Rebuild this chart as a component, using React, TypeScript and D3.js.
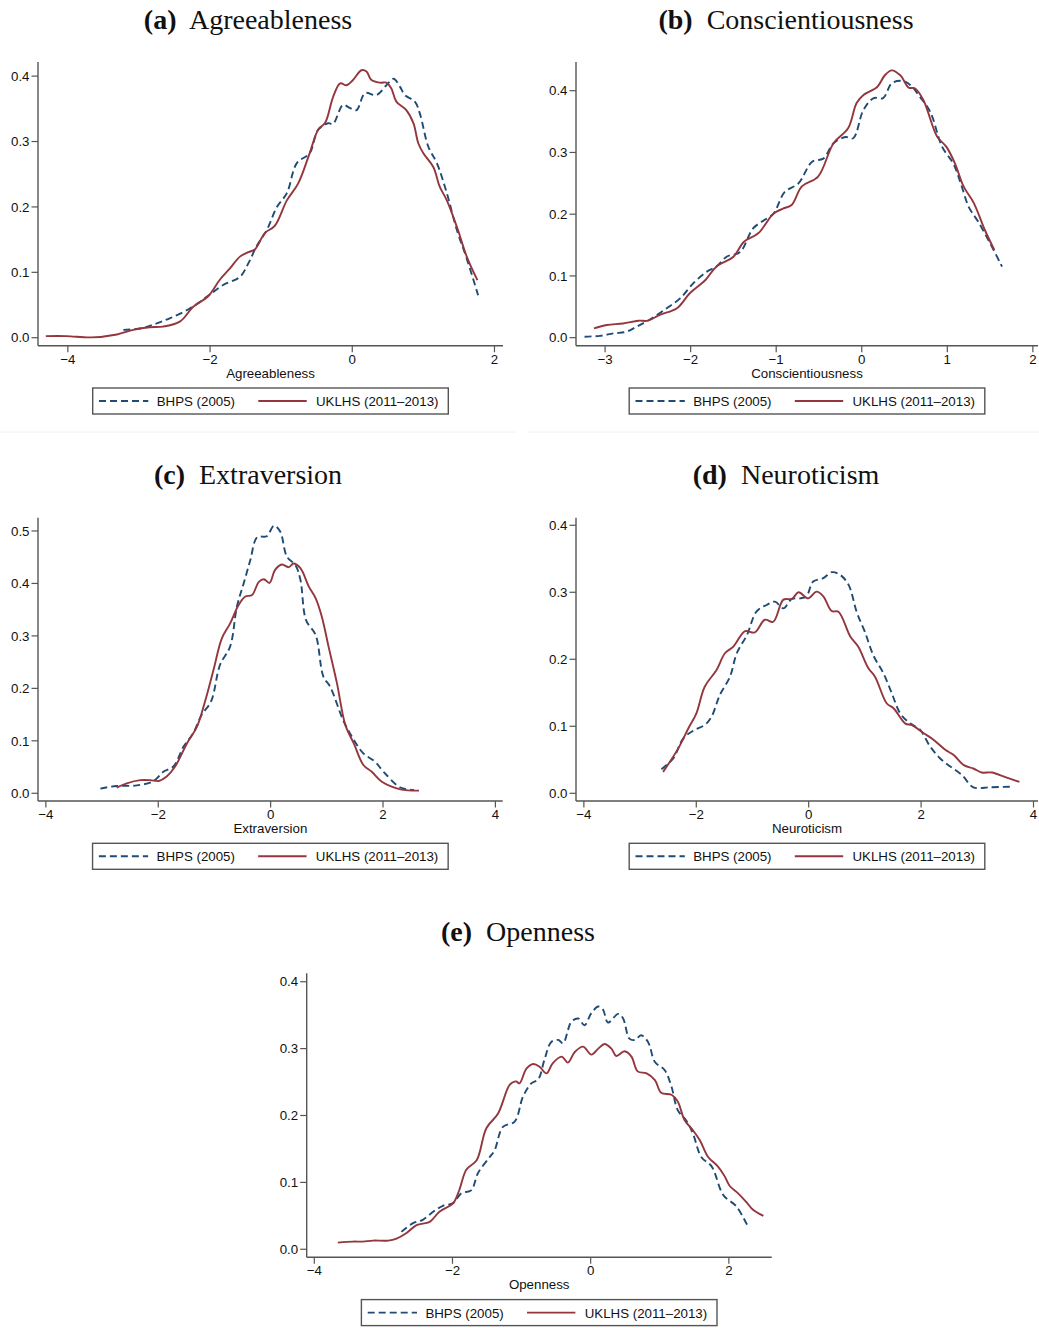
import React from "react";
import * as d3 from "d3";

// Kernel density estimates of the Big Five personality scores, BHPS vs UKLHS
type Pt = [number, number];

const seriesNames = ["BHPS (2005)", "UKLHS (2011\u20132013)"];

const agreeBHPS: Pt[] = [
  [-3.22, 0.012], [-2.94, 0.015], [-2.75, 0.022], [-2.56, 0.03], [-2.33, 0.042], [-2.14, 0.055],
  [-1.98, 0.068], [-1.81, 0.081], [-1.58, 0.093], [-1.46, 0.114], [-1.35, 0.139], [-1.2, 0.165],
  [-1.06, 0.2], [-0.92, 0.221], [-0.78, 0.267], [-0.6, 0.282], [-0.48, 0.318], [-0.34, 0.328],
  [-0.27, 0.327], [-0.13, 0.356], [-0.03, 0.351], [0.06, 0.348], [0.18, 0.374], [0.34, 0.371],
  [0.48, 0.386], [0.58, 0.396], [0.67, 0.384], [0.74, 0.371], [0.88, 0.361], [0.95, 0.343],
  [1.07, 0.292], [1.19, 0.267], [1.33, 0.221], [1.47, 0.165], [1.61, 0.121], [1.77, 0.065],
];
const agreeUKLHS: Pt[] = [
  [-4.31, 0.0025], [-4.02, 0.0025], [-3.67, 0.0005], [-3.31, 0.005], [-3.08, 0.012], [-2.85, 0.016],
  [-2.66, 0.017], [-2.42, 0.025], [-2.24, 0.047], [-2.03, 0.063], [-1.86, 0.089], [-1.72, 0.106],
  [-1.58, 0.124], [-1.46, 0.131], [-1.37, 0.135], [-1.23, 0.16], [-1.09, 0.171], [-0.92, 0.21],
  [-0.76, 0.236], [-0.6, 0.282], [-0.48, 0.318], [-0.38, 0.329], [-0.27, 0.368], [-0.17, 0.389],
  [-0.08, 0.386], [0.01, 0.394], [0.13, 0.409], [0.2, 0.407], [0.27, 0.394], [0.39, 0.39],
  [0.48, 0.39], [0.55, 0.381], [0.62, 0.361], [0.76, 0.348], [0.86, 0.328], [0.93, 0.297],
  [1.0, 0.282], [1.14, 0.261], [1.23, 0.231], [1.33, 0.21], [1.47, 0.17], [1.61, 0.124], [1.76, 0.088],
];

const consBHPS: Pt[] = [
  [-3.24, 0.0016], [-3.06, 0.003], [-2.9, 0.007], [-2.75, 0.0097], [-2.63, 0.018], [-2.48, 0.029],
  [-2.28, 0.0475], [-2.12, 0.064], [-1.97, 0.088], [-1.81, 0.107], [-1.7, 0.115], [-1.58, 0.131],
  [-1.42, 0.139], [-1.27, 0.177], [-1.11, 0.193], [-1.03, 0.201], [-0.9, 0.236], [-0.74, 0.25],
  [-0.58, 0.285], [-0.45, 0.29], [-0.33, 0.315], [-0.19, 0.325], [-0.1, 0.323], [0.02, 0.369],
  [0.14, 0.388], [0.25, 0.388], [0.35, 0.412], [0.47, 0.416], [0.57, 0.409], [0.68, 0.39],
  [0.8, 0.366], [0.94, 0.309], [1.07, 0.282], [1.15, 0.253], [1.25, 0.212], [1.36, 0.188],
  [1.5, 0.153], [1.64, 0.115],
];
const consUKLHS: Pt[] = [
  [-3.13, 0.015], [-2.98, 0.0205], [-2.79, 0.023], [-2.61, 0.0275], [-2.5, 0.0275], [-2.36, 0.037],
  [-2.16, 0.0475], [-2.01, 0.072], [-1.83, 0.093], [-1.7, 0.115], [-1.5, 0.131], [-1.38, 0.155],
  [-1.21, 0.169], [-1.03, 0.201], [-0.92, 0.209], [-0.82, 0.215], [-0.7, 0.245], [-0.51, 0.261],
  [-0.33, 0.315], [-0.16, 0.339], [-0.06, 0.38], [0.02, 0.393], [0.18, 0.406], [0.27, 0.425],
  [0.35, 0.433], [0.45, 0.425], [0.55, 0.405], [0.62, 0.404], [0.72, 0.385], [0.88, 0.326],
  [0.99, 0.309], [1.09, 0.282], [1.19, 0.245], [1.31, 0.218], [1.44, 0.174], [1.55, 0.142],
];

const extraBHPS: Pt[] = [
  [-3.03, 0.009], [-2.74, 0.014], [-2.38, 0.015], [-2.08, 0.0235], [-1.91, 0.041], [-1.73, 0.051],
  [-1.55, 0.089], [-1.38, 0.114], [-1.23, 0.149], [-1.06, 0.175], [-0.9, 0.245], [-0.72, 0.28],
  [-0.6, 0.356], [-0.48, 0.4], [-0.36, 0.445], [-0.24, 0.488], [-0.07, 0.49], [0.06, 0.51],
  [0.17, 0.499], [0.29, 0.451], [0.44, 0.435], [0.53, 0.407], [0.63, 0.33], [0.8, 0.302],
  [0.94, 0.222], [1.06, 0.203], [1.3, 0.137], [1.48, 0.102], [1.65, 0.076], [1.86, 0.06],
  [2.01, 0.041], [2.31, 0.011], [2.55, 0.0064],
];
const extraUKLHS: Pt[] = [
  [-2.74, 0.011], [-2.56, 0.019], [-2.32, 0.025], [-2.14, 0.025], [-1.99, 0.0235], [-1.85, 0.032],
  [-1.7, 0.051], [-1.49, 0.095], [-1.31, 0.127], [-1.16, 0.178], [-1.01, 0.238], [-0.87, 0.295],
  [-0.72, 0.324], [-0.57, 0.359], [-0.45, 0.375], [-0.33, 0.378], [-0.21, 0.403], [-0.12, 0.408],
  [-0.02, 0.401], [0.08, 0.426], [0.2, 0.436], [0.32, 0.431], [0.41, 0.438], [0.53, 0.429],
  [0.68, 0.394], [0.8, 0.372], [0.91, 0.337], [1.03, 0.28], [1.18, 0.21], [1.33, 0.13],
  [1.48, 0.095], [1.65, 0.054], [1.8, 0.041], [1.98, 0.022], [2.31, 0.0076], [2.64, 0.005],
];

const neuroBHPS: Pt[] = [
  [-2.62, 0.036], [-2.41, 0.052], [-2.23, 0.082], [-2.02, 0.095], [-1.85, 0.102], [-1.73, 0.114],
  [-1.58, 0.147], [-1.4, 0.174], [-1.28, 0.209], [-1.1, 0.236], [-0.93, 0.271], [-0.75, 0.281],
  [-0.6, 0.286], [-0.45, 0.276], [-0.3, 0.29], [-0.15, 0.291], [-0.04, 0.294], [0.08, 0.316],
  [0.26, 0.321], [0.41, 0.33], [0.56, 0.326], [0.71, 0.311], [0.86, 0.269], [1.0, 0.241],
  [1.15, 0.206], [1.33, 0.179], [1.48, 0.149], [1.63, 0.119], [1.81, 0.104], [1.98, 0.095],
  [2.16, 0.07], [2.34, 0.052], [2.52, 0.04], [2.73, 0.027], [2.93, 0.009], [3.23, 0.009], [3.62, 0.01],
];
const neuroUKLHS: Pt[] = [
  [-2.59, 0.032], [-2.32, 0.067], [-2.14, 0.097], [-2.0, 0.119], [-1.85, 0.159], [-1.64, 0.184],
  [-1.49, 0.209], [-1.34, 0.219], [-1.13, 0.242], [-0.96, 0.24], [-0.78, 0.259], [-0.63, 0.256],
  [-0.45, 0.289], [-0.3, 0.29], [-0.18, 0.3], [-0.01, 0.291], [0.14, 0.301], [0.26, 0.294],
  [0.41, 0.272], [0.53, 0.271], [0.74, 0.234], [0.88, 0.219], [1.06, 0.187], [1.18, 0.174],
  [1.39, 0.134], [1.51, 0.127], [1.72, 0.104], [1.83, 0.102], [2.04, 0.09], [2.22, 0.08],
  [2.43, 0.065], [2.58, 0.057], [2.76, 0.042], [2.93, 0.037], [3.08, 0.031], [3.26, 0.031],
  [3.5, 0.024], [3.75, 0.017],
];

const openBHPS: Pt[] = [
  [-2.74, 0.026], [-2.57, 0.039], [-2.43, 0.044], [-2.28, 0.056], [-2.14, 0.065], [-1.99, 0.069],
  [-1.87, 0.084], [-1.73, 0.088], [-1.63, 0.114], [-1.46, 0.138], [-1.39, 0.148], [-1.27, 0.183],
  [-1.1, 0.191], [-0.98, 0.228], [-0.86, 0.248], [-0.76, 0.254], [-0.67, 0.283], [-0.57, 0.31],
  [-0.47, 0.313], [-0.4, 0.308], [-0.28, 0.34], [-0.18, 0.345], [-0.09, 0.335], [0.01, 0.353],
  [0.11, 0.363], [0.18, 0.358], [0.25, 0.339], [0.4, 0.352], [0.47, 0.345], [0.56, 0.315],
  [0.64, 0.313], [0.73, 0.32], [0.83, 0.31], [0.93, 0.28], [1.07, 0.268], [1.17, 0.243],
  [1.26, 0.208], [1.38, 0.193], [1.48, 0.173], [1.6, 0.138], [1.75, 0.124], [1.92, 0.081],
  [2.11, 0.064], [2.28, 0.033],
];
const openUKLHS: Pt[] = [
  [-3.66, 0.01], [-3.44, 0.0115], [-3.3, 0.0115], [-3.15, 0.013], [-2.93, 0.013], [-2.81, 0.016],
  [-2.67, 0.024], [-2.52, 0.036], [-2.33, 0.041], [-2.19, 0.056], [-1.99, 0.069], [-1.9, 0.089],
  [-1.8, 0.119], [-1.65, 0.133], [-1.51, 0.181], [-1.34, 0.203], [-1.17, 0.246], [-1.08, 0.251],
  [-1.03, 0.248], [-0.93, 0.27], [-0.83, 0.277], [-0.74, 0.273], [-0.64, 0.263], [-0.55, 0.278],
  [-0.42, 0.288], [-0.33, 0.279], [-0.23, 0.295], [-0.11, 0.303], [0.01, 0.291], [0.11, 0.3],
  [0.2, 0.307], [0.3, 0.3], [0.37, 0.289], [0.49, 0.296], [0.59, 0.288], [0.68, 0.266],
  [0.81, 0.263], [0.93, 0.253], [1.02, 0.234], [1.17, 0.231], [1.26, 0.221], [1.36, 0.193],
  [1.48, 0.178], [1.58, 0.163], [1.7, 0.138], [1.84, 0.124], [1.94, 0.109], [2.01, 0.095],
  [2.13, 0.084], [2.25, 0.071], [2.35, 0.059], [2.5, 0.05],
];

const ticksAgree = [-4, -2, 0, 2];
const ticksCons = [-3, -2, -1, 0, 1, 2];
const ticksWide = [-4, -2, 0, 2, 4];
const ticksOpen = [-4, -2, 0, 2];
const yTicks4 = [0, 0.1, 0.2, 0.3, 0.4];
const yTicks5 = [0, 0.1, 0.2, 0.3, 0.4, 0.5];

const BLUE = "#1f4b74";
const RED = "#93363d";
const AXIS = "#555555";
const TEXT = "#111111";
const SANS = "'Liberation Sans', Arial, Helvetica, sans-serif";
const SERIF = "'Liberation Serif', 'Times New Roman', serif";

interface PanelSpec {
  letter: string;
  trait: string;
  bhps: Pt[];
  uklhs: Pt[];
  xDomain: [number, number];
  yDomain: [number, number];
  xTicks: number[];
  yTicks: number[];
  box: { left: number; right: number; top: number; bottom: number };
  titleX: number;
  titleY: number;
}

const panels: PanelSpec[] = [
  {
    letter: "(a)", trait: "Agreeableness", bhps: agreeBHPS, uklhs: agreeUKLHS,
    xDomain: [-4.42, 2.12], yDomain: [-0.0122, 0.4216], xTicks: ticksAgree, yTicks: yTicks4,
    box: { left: 38, right: 503, top: 62, bottom: 345.7 }, titleX: 248, titleY: 28.5,
  },
  {
    letter: "(b)", trait: "Conscientiousness", bhps: consBHPS, uklhs: consUKLHS,
    xDomain: [-3.34, 2.06], yDomain: [-0.013, 0.4465], xTicks: ticksCons, yTicks: yTicks4,
    box: { left: 576, right: 1038, top: 62, bottom: 345.7 }, titleX: 786, titleY: 28.5,
  },
  {
    letter: "(c)", trait: "Extraversion", bhps: extraBHPS, uklhs: extraUKLHS,
    xDomain: [-4.14, 4.13], yDomain: [-0.0147, 0.5253], xTicks: ticksWide, yTicks: yTicks5,
    box: { left: 38, right: 502.7, top: 517.7, bottom: 801 }, titleX: 248, titleY: 483.5,
  },
  {
    letter: "(d)", trait: "Neuroticism", bhps: neuroBHPS, uklhs: neuroUKLHS,
    xDomain: [-4.14, 4.08], yDomain: [-0.0115, 0.4113], xTicks: ticksWide, yTicks: yTicks4,
    box: { left: 576, right: 1038, top: 517.7, bottom: 801 }, titleX: 786, titleY: 483.5,
  },
  {
    letter: "(e)", trait: "Openness", bhps: openBHPS, uklhs: openUKLHS,
    xDomain: [-4.11, 2.62], yDomain: [-0.012, 0.4126], xTicks: ticksOpen, yTicks: yTicks4,
    box: { left: 306.7, right: 771.7, top: 973.3, bottom: 1257.3 }, titleX: 518, titleY: 940.5,
  },
];

const fmtY = d3.format(".1f");
const fmtX = (v: number) => (v < 0 ? "\u2212" + Math.abs(v) : String(v));

function Panel({ p }: { p: PanelSpec }) {
  const { box } = p;
  const x = d3.scaleLinear().domain(p.xDomain).range([box.left, box.right]);
  const y = d3.scaleLinear().domain(p.yDomain).range([box.bottom, box.top]);
  const line = d3
    .line<Pt>()
    .x((d) => x(d[0]))
    .y((d) => y(d[1]))
    .curve(d3.curveCatmullRom.alpha(0.5));

  const cx = (box.left + box.right) / 2;
  const legW = 355.6;
  const legH = 26;
  const legX = cx - legW / 2;
  const legY = box.bottom + 42.3;

  return (
    <g>
      <text x={p.titleX} y={p.titleY} textAnchor="middle" fontFamily={SERIF} fontSize={28} fill={TEXT}>
        <tspan fontWeight="bold">{p.letter}</tspan>
        <tspan dx={7}>{" " + p.trait}</tspan>
      </text>

      {/* density curves */}
      <path d={line(p.bhps) ?? ""} fill="none" stroke={BLUE} strokeWidth={1.9} strokeDasharray="7 4" />
      <path d={line(p.uklhs) ?? ""} fill="none" stroke={RED} strokeWidth={1.9} />

      {/* y axis */}
      <line x1={box.left} x2={box.left} y1={box.top} y2={box.bottom} stroke={AXIS} strokeWidth={1.4} />
      {p.yTicks.map((t) => (
        <g key={"y" + t}>
          <line x1={box.left - 6.5} x2={box.left} y1={y(t)} y2={y(t)} stroke={AXIS} strokeWidth={1.2} />
          <text x={box.left - 8.5} y={y(t) + 4.7} textAnchor="end" fontFamily={SANS} fontSize={13.3} fill={TEXT}>
            {fmtY(t)}
          </text>
        </g>
      ))}

      {/* x axis */}
      <line x1={box.left} x2={box.right} y1={box.bottom} y2={box.bottom} stroke={AXIS} strokeWidth={1.4} />
      {p.xTicks.map((t) => (
        <g key={"x" + t}>
          <line x1={x(t)} x2={x(t)} y1={box.bottom} y2={box.bottom + 6.5} stroke={AXIS} strokeWidth={1.2} />
          <text x={x(t)} y={box.bottom + 17.8} textAnchor="middle" fontFamily={SANS} fontSize={13.3} fill={TEXT}>
            {fmtX(t)}
          </text>
        </g>
      ))}
      <text x={cx} y={box.bottom + 32} textAnchor="middle" fontFamily={SANS} fontSize={13.3} fill={TEXT}>
        {p.trait}
      </text>

      {/* legend */}
      <rect x={legX} y={legY} width={legW} height={legH} fill="white" stroke={AXIS} strokeWidth={1.4} />
      <line x1={legX + 6.3} x2={legX + 55.6} y1={legY + 13} y2={legY + 13} stroke={BLUE} strokeWidth={1.9} strokeDasharray="7 4" />
      <text x={legX + 64} y={legY + 18} fontFamily={SANS} fontSize={13.3} fill={TEXT}>
        {seriesNames[0]}
      </text>
      <line x1={legX + 165.6} x2={legX + 214} y1={legY + 13} y2={legY + 13} stroke={RED} strokeWidth={1.9} />
      <text x={legX + 223.3} y={legY + 18} fontFamily={SANS} fontSize={13.3} fill={TEXT}>
        {seriesNames[1]}
      </text>
    </g>
  );
}

export default function App() {
  return (
    <svg
      width={1039}
      height={1328}
      viewBox="0 0 1039 1328"
      style={{ position: "absolute", left: 0, top: 0, background: "white" }}
    >
      <rect x={0} y={0} width={1039} height={1328} fill="white" />
      {/* faint boundaries between the top panels and the rest */}
      <line x1={0} x2={517} y1={432} y2={432} stroke="#f2f2f2" strokeWidth={1} />
      <line x1={527} x2={1039} y1={432} y2={432} stroke="#f2f2f2" strokeWidth={1} />
      {panels.map((p) => (
        <Panel key={p.letter} p={p} />
      ))}
    </svg>
  );
}
